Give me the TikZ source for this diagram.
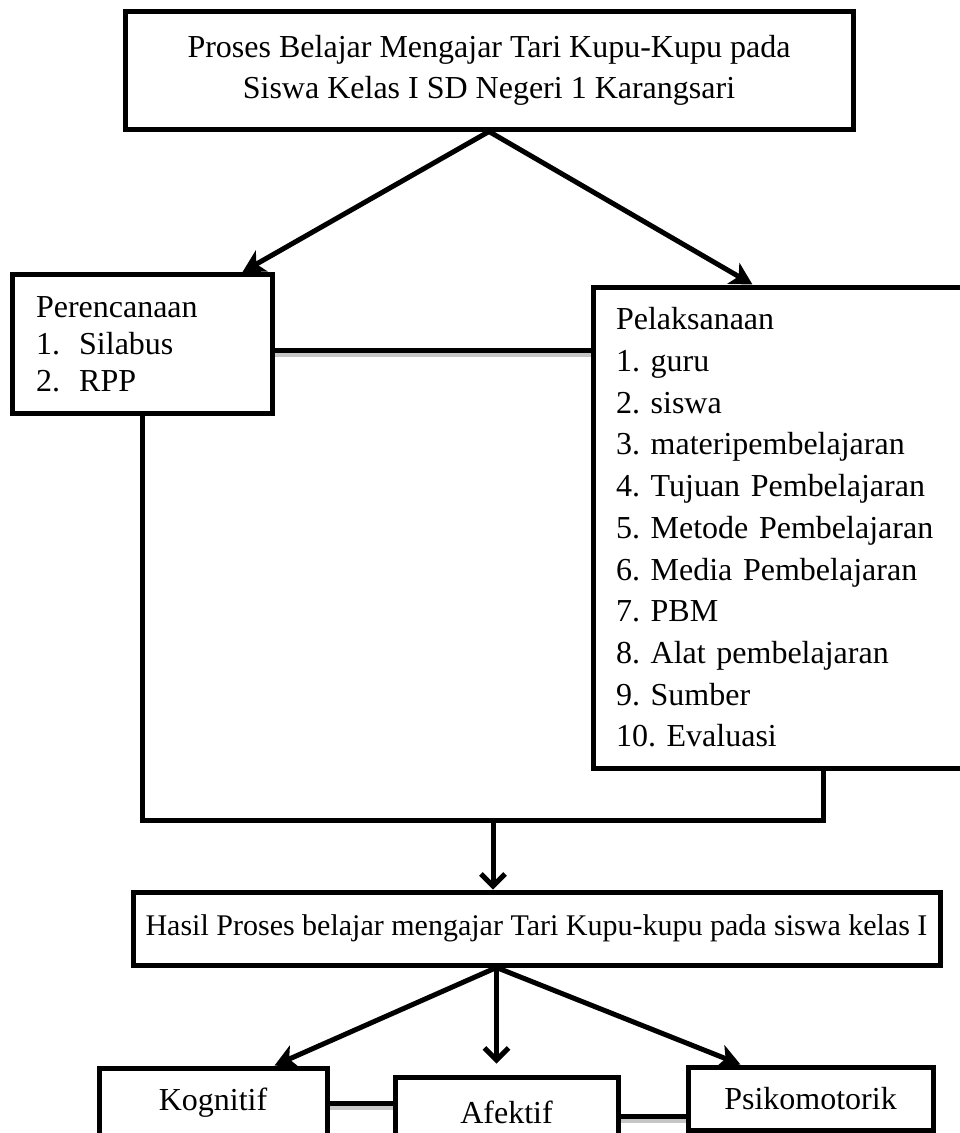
\documentclass[tikz,border=0pt]{standalone}
\usepackage{fontspec}
\setmainfont{Liberation Serif}
\usepackage{tikz}
\usetikzlibrary{positioning, arrows.meta}

\begin{document}
\frenchspacing
\begin{tikzpicture}[
    x=1pt, y=-1pt,
    kotak/.style={
        rectangle,
        draw,
        line width=5pt,
        align=center,
        font=\fontsize{32}{41}\selectfont
    },
    daftar/.style={
        kotak,
        align=left,
        anchor=center
    },
    arrow/.style={
        line width=5pt,
        -{Stealth[length=22pt, width=24pt, inset=6pt]}
    },
    turun/.style={
        line width=5pt,
        -{Straight Barb[length=12pt, width=24pt, line width=5pt]}
    },
    hubung/.style={
        line width=5pt,
        preaction={draw=gray!45, line width=5pt, transform canvas={yshift=-4pt}}
    }
]
\useasboundingbox (0,0) rectangle (959,1133);

\node[kotak, minimum width=728pt, minimum height=118pt] (judul) at (489,70)
    {Proses Belajar Mengajar Tari Kupu-Kupu pada\\Siswa Kelas I SD Negeri 1 Karangsari};
\node[daftar, text width=212pt, inner xsep=24pt, minimum height=139pt,
      font=\fontsize{32}{37}\selectfont] (rencana) at (142,344)
    {Perencanaan\\1.\hspace{0.6em}Silabus\\2.\hspace{0.6em}RPP};
\node[daftar, text width=336pt, inner xsep=23pt, minimum height=481pt,
      font=\fontsize{32}{41.7}\selectfont] (laksana) at (784,527.5)
    {Pelaksanaan\\1. guru\\2. siswa\\3. materipembelajaran\\4. Tujuan Pembelajaran\\
     5. Metode Pembelajaran\\6. Media Pembelajaran\\7. PBM\\8. Alat pembelajaran\\
     9. Sumber\\10. Evaluasi};
\node[kotak, minimum width=807pt, minimum height=73pt,
      font=\fontsize{30}{36}\selectfont] (hasil) at (536.5,928.5)
    {Hasil Proses belajar mengajar Tari Kupu-kupu pada siswa kelas I};
\node[kotak, minimum width=228pt, minimum height=70pt] (kognitif) at (213,1103) {Kognitif};
\node[kotak, minimum width=223pt, minimum height=70pt, right=63pt of kognitif, yshift=-9pt] (afektif) {Afektif};
\node[kotak, minimum width=245pt, minimum height=63pt, right=65pt of afektif, yshift=13.5pt] (psiko) {Psikomotorik};

\coordinate (gabung) at (493,820);
\coordinate (pusat) at ([xshift=-40pt]hasil.south);

\draw[arrow] (judul.south) -- ([xshift=-32pt]rencana.north east);
\draw[arrow] (judul.south) -- ([xshift=162pt]laksana.north west);
\draw[hubung] ([yshift=-6pt]rencana.east) -- ([yshift=-6pt]rencana.east -| laksana.west);

\draw[line width=5pt] (rencana.south) -- (rencana.south |- gabung)
    -- ([xshift=39pt]laksana.south |- gabung) -- ([xshift=39pt]laksana.south);
\draw[turun] (gabung) -- (gabung |- hasil.north);

\draw[arrow] (pusat) -- ([xshift=-55pt]kognitif.north east);
\draw[turun, shorten >=11pt] (pusat) -- (pusat |- afektif.north);
\draw[arrow] (pusat) -- ([xshift=55pt]psiko.north west);

\draw[hubung] (kognitif.east) -- (kognitif.east -| afektif.west);
\draw[hubung] ([yshift=-4pt]afektif.east) -- ([yshift=-4pt]afektif.east -| psiko.west);

\end{tikzpicture}
\end{document}
